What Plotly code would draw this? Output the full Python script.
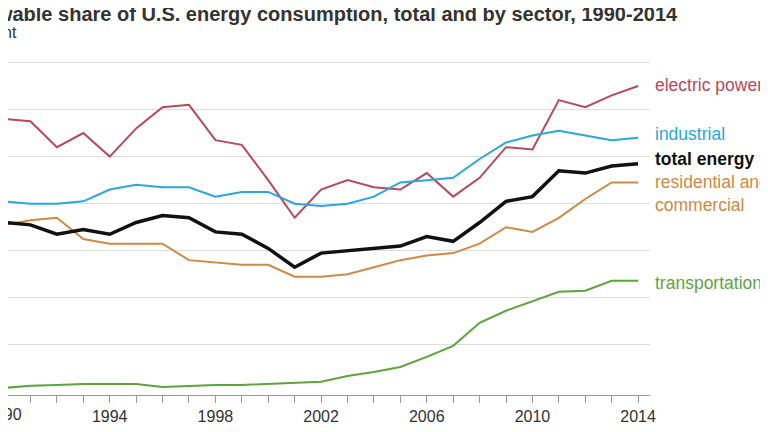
import plotly.graph_objects as go

years = list(range(1990, 2015))
electric = [11.6,11.5,10.4,11.0,10.0,11.2,12.1,12.2,10.7,10.5,9.0,7.4,8.6,9.0,8.7,8.6,9.3,8.3,9.1,10.4,10.3,12.4,12.1,12.6,13.0]
industrial = [8.1,8.0,8.0,8.1,8.6,8.8,8.7,8.7,8.3,8.5,8.5,8.0,7.9,8.0,8.3,8.9,9.0,9.1,9.9,10.6,10.9,11.1,10.9,10.7,10.8]
total = [7.2,7.1,6.7,6.9,6.7,7.2,7.5,7.4,6.8,6.7,6.1,5.3,5.9,6.0,6.1,6.2,6.6,6.4,7.2,8.1,8.3,9.4,9.3,9.6,9.7]
residential = [7.1,7.3,7.4,6.5,6.3,6.3,6.3,5.6,5.5,5.4,5.4,4.9,4.9,5.0,5.3,5.6,5.8,5.9,6.3,7.0,6.8,7.4,8.2,8.9,8.9]
transport = [0.17,0.26,0.30,0.34,0.34,0.34,0.21,0.26,0.30,0.30,0.34,0.38,0.43,0.68,0.85,1.06,1.49,1.96,2.94,3.45,3.87,4.26,4.30,4.72,4.72]

series = [
    ("electric power", electric, "#b84a5c", 2, 84),
    ("industrial", industrial, "#2aa7e0", 2, 133),
    ("residential and<br>commercial", residential, "#cf8a45", 2, 192),
    ("transportation", transport, "#5fa33f", 2, 282),
    ("total energy", total, "#111111", 3.5, 158),
]

T, B = 38, 387
PH = B - T
fig = go.Figure()
for name, vals, col, w, _ in series:
    fig.add_trace(go.Scatter(x=years, y=vals, mode="lines", line=dict(color=col, width=w), showlegend=False))

ann = []
for name, vals, col, w, ypx in series:
    txt = "<b>total energy</b>" if name == "total energy" else name
    ann.append(dict(text=txt, xref="paper", yref="paper", x=645/642, y=(B - ypx + 7) / PH,
                    xanchor="left", yanchor="middle", showarrow=False,
                    font=dict(color=col if name != "total energy" else "#111", size=17.5), align="left"))
ann.append(dict(text="<b>Renewable share of U.S. energy consumption, total and by sector, 1990-2014</b>",
                xref="paper", yref="paper", x=-62/642, y=(B - 6) / PH, xanchor="left", yanchor="middle",
                showarrow=False, font=dict(size=20, color="#333")))
ann.append(dict(text="percent", xref="paper", yref="paper", x=-47/642, y=(B - 24) / PH,
                xanchor="left", yanchor="middle", showarrow=False, font=dict(size=16, color="#333")))
ann.append(dict(text="1990", xref="paper", yref="paper", x=0, xshift=-4, y=0, yshift=-9, xanchor="center", yanchor="top",
                showarrow=False, font=dict(size=16, color="#333")))

fig.update_layout(
    width=768, height=432, margin=dict(l=0, r=126, t=T, b=432 - B),
    plot_bgcolor="white", paper_bgcolor="white",
    font=dict(family="Liberation Sans, Arial", color="#333"),
    annotations=ann,
    xaxis=dict(range=[1990.15, 2014.45], tickvals=years,
               ticktext=[str(y) if (y - 1990) % 4 == 0 and y > 1990 else "" for y in years],
               ticks="outside", ticklen=7, tickcolor="#999", showgrid=False,
               showline=True, linecolor="#999", zeroline=False,
               tickfont=dict(size=16, color="#333")),
    yaxis=dict(range=[-0.13, 14.7], tickvals=[2, 4, 6, 8, 10, 12, 14], showticklabels=False,
               gridcolor="#dddddd", zeroline=False, showline=False),
)
fig.write_html("out.html")
